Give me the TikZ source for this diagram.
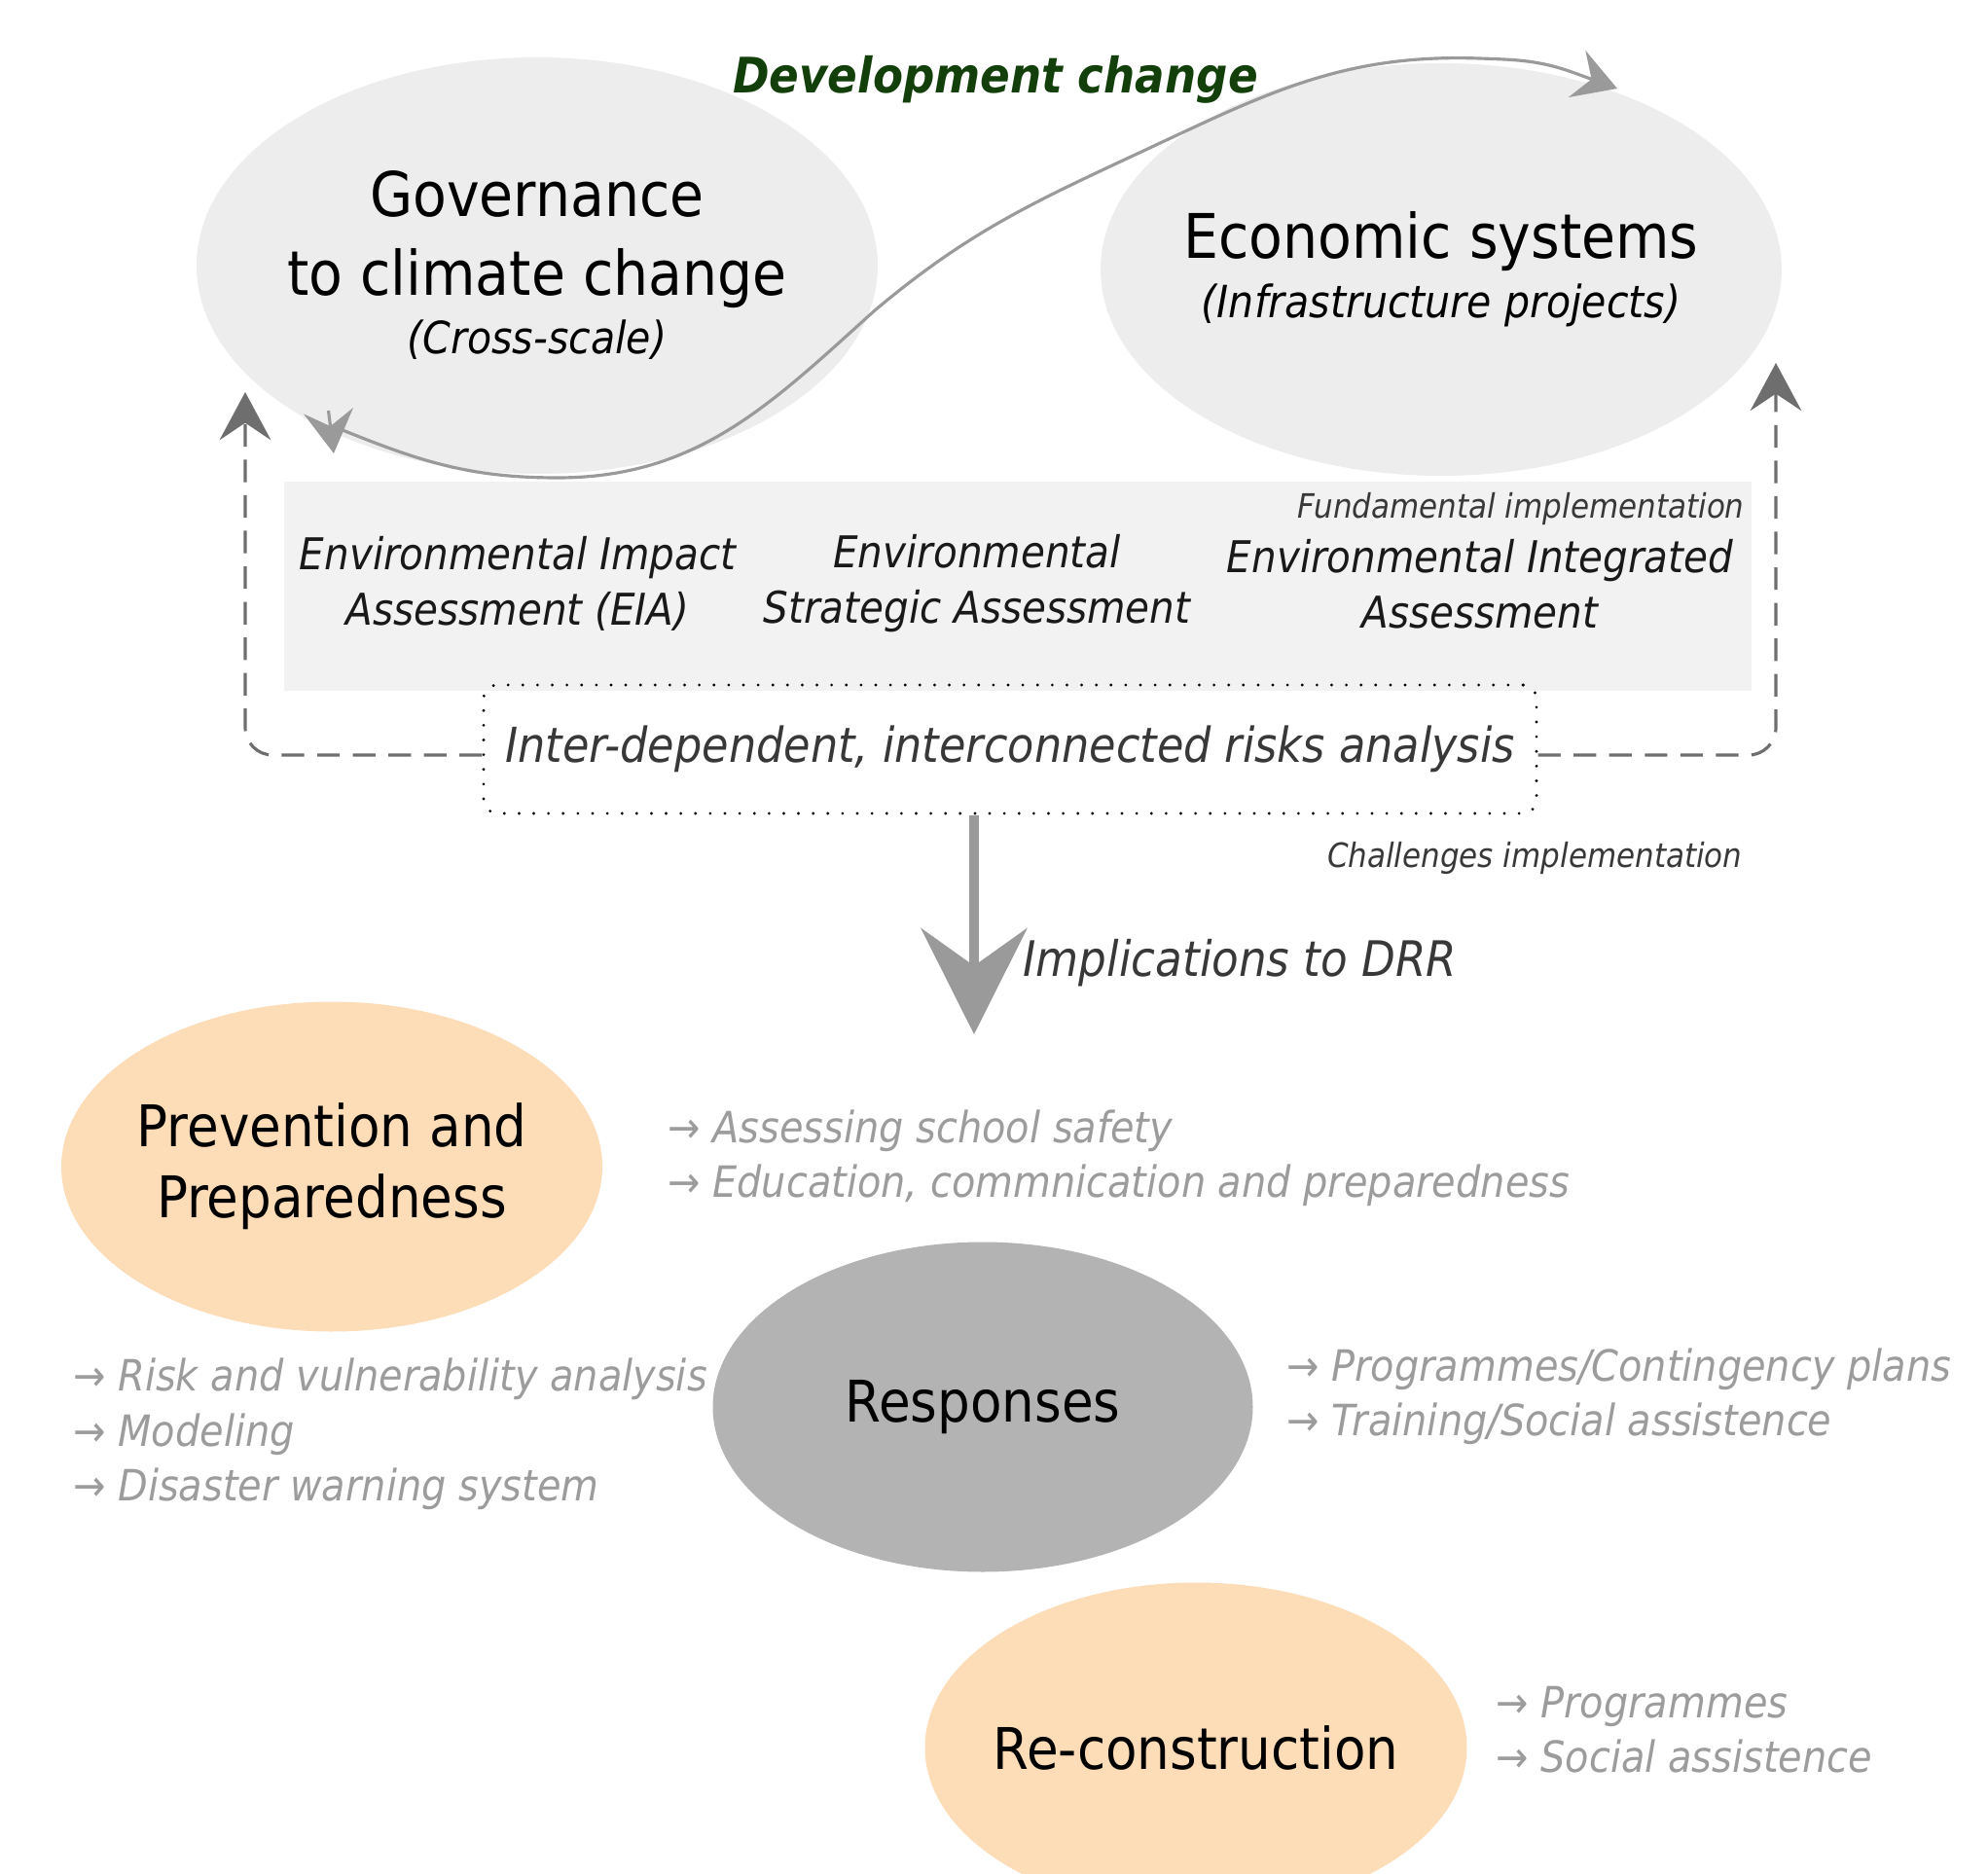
\documentclass[tikz,border=0pt]{standalone}
\usepackage{fontspec}
\setmainfont{DejaVu Sans}[FakeStretch=0.9]
\usetikzlibrary{shapes.geometric,arrows.meta}

\definecolor{ovalgray}{HTML}{EDEDED}
\definecolor{bandgray}{HTML}{F2F2F2}
\definecolor{peach}{HTML}{FDDCB8}
\definecolor{respgray}{HTML}{B3B3B3}
\definecolor{devgreen}{HTML}{123F0A}
\definecolor{curvegray}{HTML}{9A9A9A}
\definecolor{linkgray}{HTML}{6E6E6E}
\definecolor{itemgray}{HTML}{9C9C9C}
\definecolor{notegray}{HTML}{383838}

\begin{document}
\begin{tikzpicture}[
    bubble/.style={ellipse, inner sep=0pt, outer sep=0pt},
    bandtext/.style={align=center, text=black!90, font=\fontsize{12.8}{16.2}\selectfont\itshape},
    itemlist/.style={anchor=west, align=left, text=itemgray, font=\fontsize{12.6}{16}\selectfont\itshape},
    devcurve/.style={curvegray, line width=0.9pt},
    devtip/.style={curvegray, line width=0.9pt, -{Stealth[length=12.5pt,width=14.5pt,inset=4.5pt]}},
    linkline/.style={linkgray, line width=0.9pt, dash pattern=on 6.6pt off 3.8pt, rounded corners=8pt,
        -{Stealth[length=14pt,width=15pt,inset=5pt]}},
    drrarrow/.style={curvegray, line width=2.8pt, -{Stealth[length=31pt,width=31pt,inset=11pt]}}
  ]
        \useasboundingbox (0,0) rectangle (20.43,-19.26);
        \clip (0,0) rectangle (20.43,-19.26);

        \node[bubble, fill=ovalgray, minimum width=7cm, minimum height=4.28cm] (gov) at (5.52,-2.73) {};
        \node[align=center, font=\fontsize{18}{22.8}\selectfont] (govlabel) at (gov)
              {Governance\\to climate change\\[-5.5pt]{\fontsize{13}{16}\selectfont\itshape (Cross-scale)}};
        \node[bubble, fill=ovalgray, minimum width=7cm, minimum height=4.24cm] (eco) at (14.81,-2.77) {};
        \node[align=center, font=\fontsize{18}{22.8}\selectfont] (ecolabel) at (eco)
              {Economic systems\\[-5.5pt]{\fontsize{13}{16}\selectfont\itshape (Infrastructure projects)}};

        \node[bubble, fill=peach, minimum width=5.56cm, minimum height=3.39cm] (prev) at (3.41,-11.99) {};
        \node[align=center, font=\fontsize{16.8}{20.8}\selectfont] (prevlabel) at (prev) {Prevention and\\Preparedness};
        \node[bubble, fill=respgray, minimum width=5.55cm, minimum height=3.39cm] (resp) at (10.10,-14.46) {};
        \node[font=\fontsize{16.8}{20.8}\selectfont] (resplabel) at (resp) {Responses};
        \node[bubble, fill=peach, minimum width=5.57cm, minimum height=3.39cm] (recon) at (12.29,-17.96) {};
        \node[font=\fontsize{16.8}{20.8}\selectfont] (reconlabel) at (recon) {Re-construction};

        \fill[bandgray] (2.92,-4.95) rectangle (18.00,-7.10);
        \node[bandtext] (eia) at (5.32,-6.00) {Environmental Impact\\Assessment (EIA)};
        \node[bandtext] (esa) at (10.04,-6.00) {Environmental\\Strategic Assessment};
        \node[bandtext] (eint) at (15.21,-6.00) {Environmental Integrated\\Assessment};
        \node[anchor=east, text=notegray, font=\fontsize{9.8}{12}\selectfont\itshape] (fundnote) at (18.05,-5.23)
              {Fundamental implementation};

        \node[draw=black, line width=0.9pt, dash pattern=on 0pt off 4.3pt, line cap=round, rounded corners=4pt,
              minimum width=10.82cm, minimum height=1.32cm, text=notegray,
              font=\fontsize{14.1}{17}\selectfont\itshape] (riskbox) at (10.38,-7.70)
              {Inter-dependent, interconnected risks analysis};
        \node[anchor=east, text=notegray, font=\fontsize{9.8}{12}\selectfont\itshape] (challnote) at (18.03,-8.82)
              {Challenges implementation};

        \node[text=devgreen, font=\fontsize{14.3}{17}\selectfont\bfseries\itshape] (devlabel) at (10.23,-0.82)
              {Development change};

        \coordinate (govhook) at (3.52,-4.42);
        \coordinate (govback) at (3.375,-4.22);
        \coordinate (govtip) at (3.43,-4.66);
        \coordinate (govlow) at (5.73,-4.91);
        \coordinate (ecotop) at (15.20,-0.60);
        \coordinate (ecoback) at (16.18,-0.75);
        \coordinate (ecotip) at (16.62,-0.91);
        \draw[devcurve] (govhook) to[out=-22,in=180] (govlow) to[out=0,in=222] (8.99,-3.19)
              to[out=40,in=205] (11.73,-1.56) to[out=25,in=178] (ecotop) to[out=-2,in=160] (ecoback);
        \draw[devtip] (ecoback) -- (ecotip);
        \draw[devtip] (govback) -- (govtip);

        \coordinate (govup) at (2.52,-4.03);
        \coordinate (ecoup) at (18.25,-3.73);
        \draw[linkline] ([yshift=-0.06cm]riskbox.west) -| (govup);
        \draw[linkline] ([yshift=-0.06cm]riskbox.east) -| (ecoup);

        \coordinate (drrtip) at (10.01,-10.63);
        \draw[drrarrow] (drrtip |- riskbox.south) -- (drrtip);
        \node[anchor=west, text=notegray, font=\fontsize{14.3}{17}\selectfont\itshape] (drrlabel) at (10.39,-9.90)
              {Implications to DRR};

        \node[itemlist] (prevlist) at (6.74,-11.90)
              {→ Assessing school safety\\→ Education, commnication and preparedness};
        \node[itemlist] (risklist) at (0.63,-14.74)
              {→ Risk and vulnerability analysis\\→ Modeling\\→ Disaster warning system};
        \node[itemlist] (resplist) at (13.10,-14.35)
              {→ Programmes/Contingency plans\\→ Training/Social assistence};
        \node[itemlist] (reconlist) at (15.25,-17.78)
              {→ Programmes\\→ Social assistence};
\end{tikzpicture}
\end{document}
